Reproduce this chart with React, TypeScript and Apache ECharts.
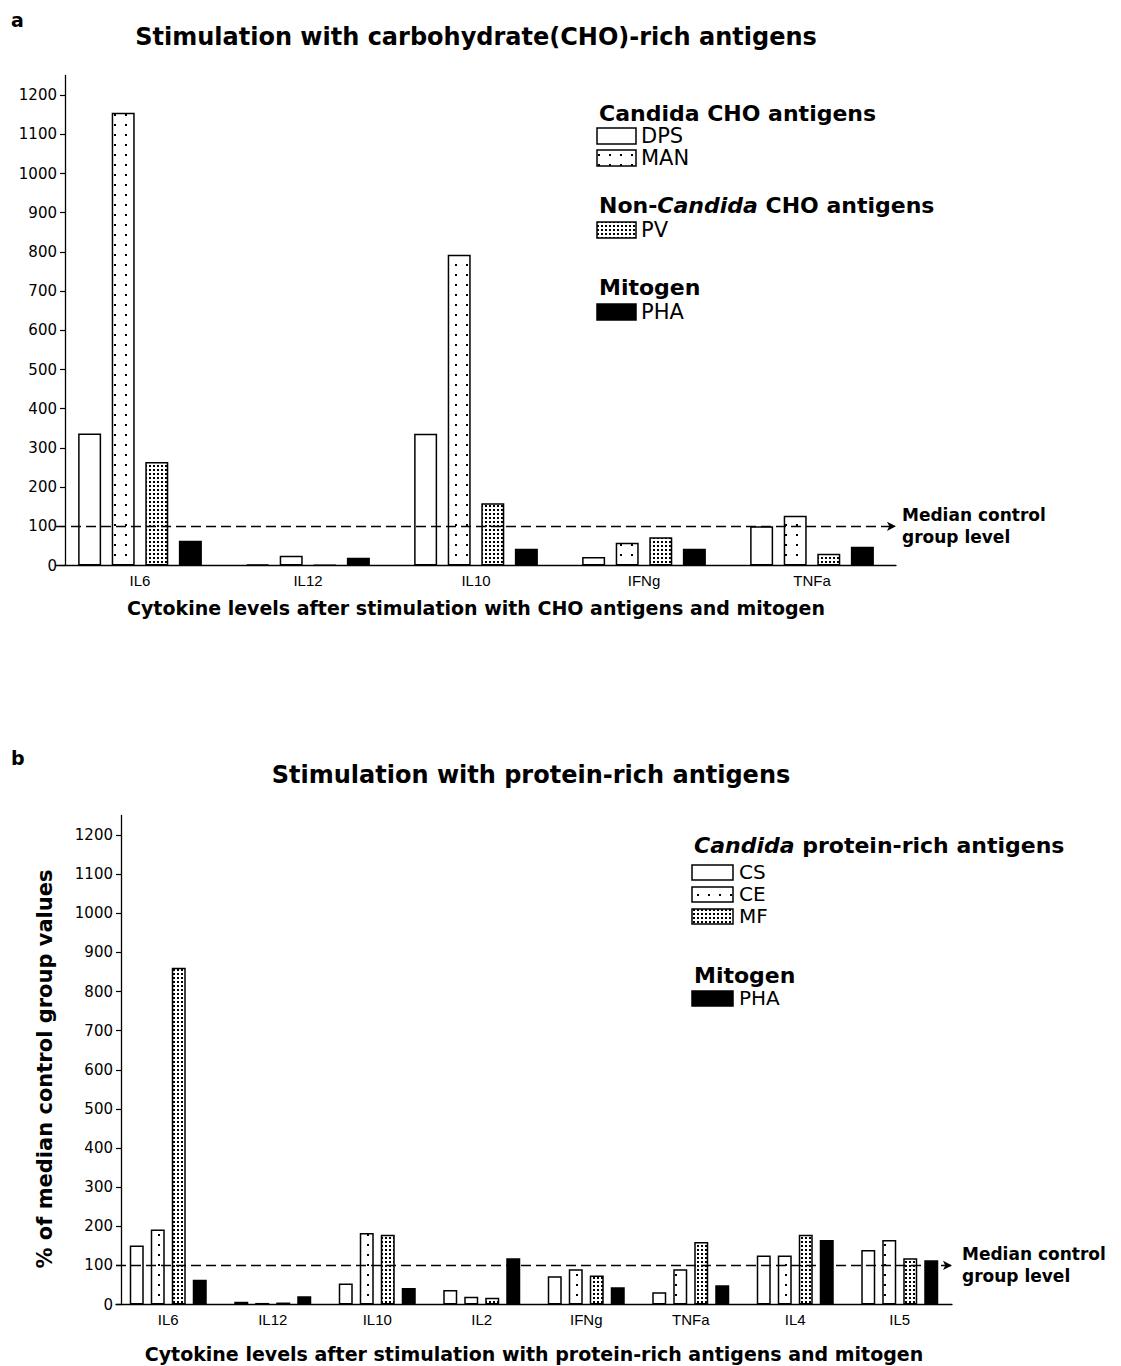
import React, { useEffect, useRef } from "react";
import * as echarts from "echarts";

// ---------- data ----------
const catsA = ["IL6", "IL12", "IL10", "IFNg", "TNFa"];
const dpsA = [337, 3, 336, 22, 100];
const manA = [1155, 25, 793, 58, 127];
const pvA = [264, 1, 159, 72, 30];
const phaA = [63, 20, 43, 43, 48];

const catsB = ["IL6", "IL12", "IL10", "IL2", "IFNg", "TNFa", "IL4", "IL5"];
const csB = [151, 7, 54, 37, 72, 31, 125, 139];
const ceB = [192, 4, 183, 20, 90, 90, 125, 165];
const mfB = [861, 5, 178, 17, 74, 160, 178, 118];
const phaB = [63, 21, 42, 118, 44, 49, 165, 113];

const yTicks = [0, 100, 200, 300, 400, 500, 600, 700, 800, 900, 1000, 1100, 1200];
const controlLevel = 100;

const BOLD = "'DejaVu Sans', sans-serif";
const REG = "'DejaVu Sans', sans-serif";

function makePattern(cw: number, ch: number, ox: number, oy: number, dot: number) {
  const c = document.createElement("canvas");
  c.width = cw;
  c.height = ch;
  const g = c.getContext("2d")!;
  g.fillStyle = "#fff";
  g.fillRect(0, 0, cw, ch);
  g.fillStyle = "#000";
  g.fillRect(ox, oy, dot, dot);
  return { image: c, repeat: "repeat" };
}

export default function App() {
  const ref = useRef<HTMLDivElement>(null);

  useEffect(() => {
    if (!ref.current) return;
    const chart = echarts.init(ref.current, null, { renderer: "svg" });
    const sparse = makePattern(11, 10, 4, 4, 2);
    const dense = makePattern(4, 4, 1, 1, 2);

    const bar = (name: string, data: number[], idx: number, fill: any, bw: number, gap: string) => ({
      type: "bar",
      name,
      data,
      xAxisIndex: idx,
      yAxisIndex: idx,
      barWidth: bw,
      barGap: gap,
      silent: true,
      itemStyle: { color: fill, borderColor: "#000", borderWidth: 1.5 },
    });

    const mline = (dist: number) => ({
      silent: true,
      symbol: ["none", "arrow"],
      symbolSize: [7, 9],
      lineStyle: { color: "#000", type: [10, 5], width: 1.3 },
      label: {
        show: true,
        position: "end",
        formatter: "Median control\ngroup level",
        color: "#000",
        fontFamily: BOLD,
        fontWeight: "bold",
        fontSize: 17,
        lineHeight: 22,
        distance: dist,
      },
      data: [{ yAxis: controlLevel }],
    });

    const xAxisCfg = (idx: number, data: string[], name: string, gap: number) => ({
      type: "category",
      gridIndex: idx,
      data,
      axisLine: { lineStyle: { color: "#000", width: 1.3 } },
      axisTick: { show: false },
      axisLabel: { color: "#000", fontSize: 15, fontFamily: "'Liberation Sans', Arial, sans-serif", margin: 7 },
      name,
      nameLocation: "middle",
      nameGap: gap,
      nameTextStyle: { color: "#000", fontFamily: BOLD, fontWeight: "bold", fontSize: 19 },
    });

    const yAxisCfg = (idx: number, off: number) => ({
      type: "value",
      gridIndex: idx,
      min: 0,
      max: 1250,
      offset: off,
      axisLine: { show: true, lineStyle: { color: "#000", width: 1.3 } },
      axisTick: { show: true, length: 5, customValues: yTicks, lineStyle: { color: "#000", width: 1.2 } },
      axisLabel: {
        customValues: yTicks,
        formatter: (v: number) => String(v),
        color: "#000",
        fontSize: 15,
        fontFamily: REG,
        margin: 8,
      },
      splitLine: { show: false },
    });

    const t = (x: number, y: number, text: string, size: number, bold: boolean, extra: any = {}) => ({
      type: "text",
      x,
      y,
      silent: true,
      style: {
        text,
        fill: "#000",
        fontFamily: bold ? BOLD : REG,
        fontWeight: bold ? "bold" : "normal",
        fontSize: size,
        align: "left",
        verticalAlign: "middle",
        ...extra,
      },
    });

    const sw = (x: number, y: number, w: number, h: number, fill: any) => ({
      type: "rect",
      silent: true,
      shape: { x, y, width: w, height: h },
      style: { fill, stroke: "#000", lineWidth: 1.5 },
    });

    const italicRich = {
      n: { fontFamily: BOLD, fontWeight: "bold", fontSize: 22, fill: "#000" },
      i: { fontFamily: BOLD, fontWeight: "bold", fontStyle: "italic", fontSize: 22, fill: "#000" },
    };

    const option: any = {
      animation: false,
      backgroundColor: "#fff",
      grid: [
        { left: 56, top: 75.5, width: 840, height: 490 },
        { left: 116, top: 815.5, width: 836, height: 489 },
      ],
      xAxis: [
        xAxisCfg(0, catsA, "Cytokine levels after stimulation with CHO antigens and mitogen", 33),
        xAxisCfg(1, catsB, "Cytokine levels after stimulation with protein-rich antigens and mitogen", 40),
      ],
      yAxis: [yAxisCfg(0, -9), yAxisCfg(1, -5)],
      series: [
        { ...bar("DPS", dpsA, 0, "#fff", 23, "46%"), markLine: mline(6) },
        bar("MAN", manA, 0, sparse, 23, "46%"),
        bar("PV", pvA, 0, dense, 23, "46%"),
        bar("PHA", phaA, 0, "#000", 23, "46%"),
        { ...bar("CS", csB, 1, "#fff", 14, "50%"), markLine: mline(10) },
        bar("CE", ceB, 1, sparse, 14, "50%"),
        bar("MF", mfB, 1, dense, 14, "50%"),
        bar("PHA", phaB, 1, "#000", 14, "50%"),
      ],
      graphic: [
        t(11, 20, "a", 19, true),
        t(476, 37, "Stimulation with carbohydrate(CHO)-rich antigens", 24, true, { align: "center" }),
        t(11, 758, "b", 19, true),
        t(531, 775, "Stimulation with protein-rich antigens", 24, true, { align: "center" }),
        {
          type: "text",
          x: 45,
          y: 1069,
          rotation: Math.PI / 2,
          silent: true,
          style: {
            text: "% of median control group values",
            fill: "#000",
            fontFamily: BOLD,
            fontWeight: "bold",
            fontSize: 21,
            align: "center",
            verticalAlign: "middle",
          },
        },
        // legend a
        t(599, 113, "Candida CHO antigens", 22, true),
        sw(597, 128, 39, 16, "#fff"),
        t(641, 136, "DPS", 21, false),
        sw(597, 150, 39, 16, sparse),
        t(641, 158, "MAN", 21, false),
        {
          type: "text",
          x: 599,
          y: 205,
          silent: true,
          style: {
            text: "{n|Non-}{i|Candida}{n| CHO antigens}",
            rich: italicRich,
            verticalAlign: "middle",
            align: "left",
          },
        },
        sw(597, 222, 39, 16, dense),
        t(641, 230, "PV", 21, false),
        t(599, 287, "Mitogen", 22, true),
        sw(597, 304, 39, 16, "#000"),
        t(641, 312, "PHA", 21, false),
        // legend b
        {
          type: "text",
          x: 694,
          y: 845,
          silent: true,
          style: {
            text: "{i|Candida}{n| protein-rich antigens}",
            rich: italicRich,
            verticalAlign: "middle",
            align: "left",
          },
        },
        sw(692, 865, 41, 15, "#fff"),
        t(739, 872, "CS", 20, false),
        sw(692, 887, 41, 15, sparse),
        t(739, 894, "CE", 20, false),
        sw(692, 909, 41, 15, dense),
        t(739, 916, "MF", 20, false),
        t(694, 975, "Mitogen", 22, true),
        sw(692, 991, 41, 15, "#000"),
        t(739, 998, "PHA", 20, false),
      ],
    };

    chart.setOption(option);
    return () => chart.dispose();
  }, []);

  return (
    <div
      ref={ref}
      style={{ position: "absolute", left: 0, top: 0, width: 1121, height: 1366, background: "#fff" }}
    />
  );
}
